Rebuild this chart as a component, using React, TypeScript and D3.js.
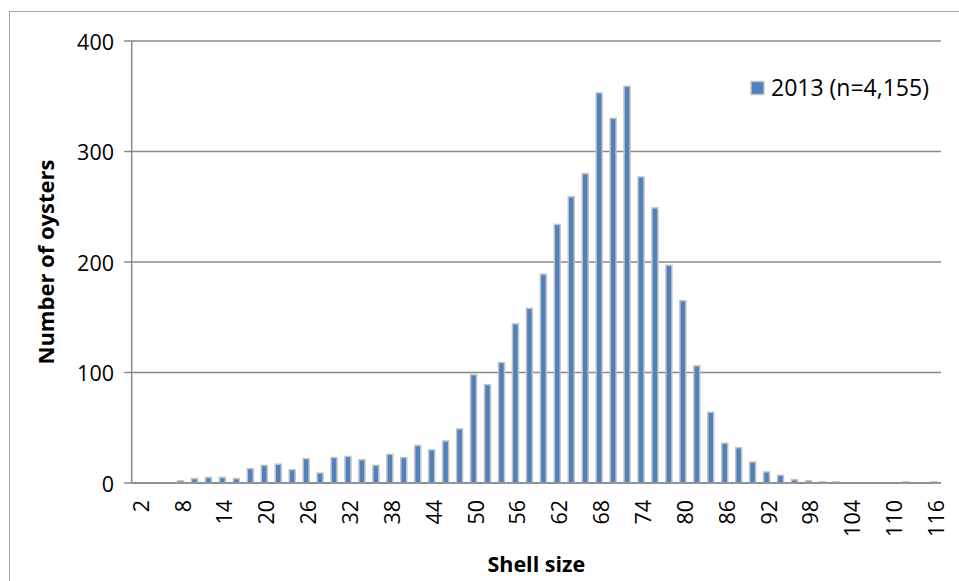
import React from "react";
import * as d3 from "d3";

// Shell size classes (mm) and oyster counts per class, 2013 survey
const shellSizes = [
  2, 4, 6, 8, 10, 12, 14, 16, 18, 20, 22, 24, 26, 28, 30, 32, 34, 36, 38, 40,
  42, 44, 46, 48, 50, 52, 54, 56, 58, 60, 62, 64, 66, 68, 70, 72, 74, 76, 78, 80,
  82, 84, 86, 88, 90, 92, 94, 96, 98, 100, 102, 104, 106, 108, 110, 112, 114, 116,
];
const counts2013 = [
  0, 0, 0, 2, 4, 5, 5, 4, 13, 16, 17, 12, 22, 9, 23, 24, 21, 16, 26, 23,
  34, 30, 38, 49, 98, 89, 109, 144, 158, 189, 234, 259, 280, 353, 330, 359, 277, 249, 197, 165,
  106, 64, 36, 32, 19, 10, 7, 3, 2, 1, 1, 0, 0, 0, 0, 1, 0, 1,
];
const xTickLabels = [2, 8, 14, 20, 26, 32, 38, 44, 50, 56, 62, 68, 74, 80, 86, 92, 98, 104, 110, 116];
const yTicks = [0, 100, 200, 300, 400];
const seriesName = "2013 (n=4,155)";

const W = 959;
const H = 581;
const plot = { left: 131.7, right: 941, top: 41, bottom: 483 };
const FONT = "'Open Sans', sans-serif";
const BAR_FILL = "#4F81BD";
const BAR_EDGE = "#c3c3c3";
const GRID = "#898989";

export default function App() {
  const x = d3
    .scaleBand<number>()
    .domain(shellSizes)
    .range([plot.left, plot.right])
    .paddingInner(0)
    .paddingOuter(0);
  const y = d3.scaleLinear().domain([0, 400]).range([plot.bottom, plot.top]);
  const bw = x.bandwidth();
  const barW = 6;

  return (
    <svg
      width={W}
      height={H}
      style={{ position: "absolute", left: 0, top: 0, background: "#fff" }}
      fontFamily={FONT}
    >
      {/* chart frame */}
      <rect x={9.5} y={11.5} width={W + 20} height={H + 20} fill="none" stroke="#a6a6a6" strokeWidth={1} />

      {/* horizontal gridlines and y ticks */}
      {yTicks.map((t) => (
        <g key={t}>
          <line x1={plot.left} x2={plot.right} y1={y(t)} y2={y(t)} stroke={GRID} strokeWidth={1.5} />
          <line x1={124} x2={plot.left} y1={y(t)} y2={y(t)} stroke={GRID} strokeWidth={1.5} />
          <text x={114} y={y(t)} textAnchor="end" dominantBaseline="central" fontSize={21.5} fill="#000">
            {t}
          </text>
        </g>
      ))}

      {/* y axis line */}
      <line x1={plot.left} x2={plot.left} y1={plot.top} y2={plot.bottom} stroke={GRID} strokeWidth={1.5} />

      {/* bars */}
      {shellSizes.map((s, i) => {
        const v = counts2013[i];
        if (v <= 0) return null;
        const cx = (x(s) as number) + bw / 2;
        const top = y(v);
        return (
          <rect
            key={s}
            x={cx - barW / 2}
            y={top}
            width={barW}
            height={plot.bottom - top}
            fill={BAR_FILL}
            stroke={BAR_EDGE}
            strokeWidth={1.5}
          />
        );
      })}

      {/* x axis baseline */}
      <line x1={plot.left} x2={plot.right} y1={plot.bottom} y2={plot.bottom} stroke={GRID} strokeWidth={1.5} />

      {/* x tick labels, rotated */}
      {xTickLabels.map((s) => {
        const cx = (x(s) as number) + bw / 2 + 1.5;
        return (
          <text
            key={s}
            transform={`translate(${cx},500) rotate(-90)`}
            textAnchor="end"
            dominantBaseline="central"
            fontSize={21.5}
            fill="#000"
          >
            {s}
          </text>
        );
      })}

      {/* axis titles */}
      <text x={(plot.left + plot.right) / 2} y={572} textAnchor="middle" fontSize={21.5} fontWeight="bold" fill="#000">
        Shell size
      </text>
      <text
        transform={`translate(45,${(plot.top + plot.bottom) / 2}) rotate(-90)`}
        textAnchor="middle"
        dominantBaseline="central"
        fontSize={22}
        fontWeight="bold"
        fill="#000"
      >
        Number of oysters
      </text>

      {/* legend */}
      <rect x={751} y={81.5} width={13} height={13} fill={BAR_FILL} stroke={BAR_EDGE} strokeWidth={1.5} />
      <text x={771} y={96} fontSize={23} fill="#000">
        {seriesName}
      </text>
    </svg>
  );
}
